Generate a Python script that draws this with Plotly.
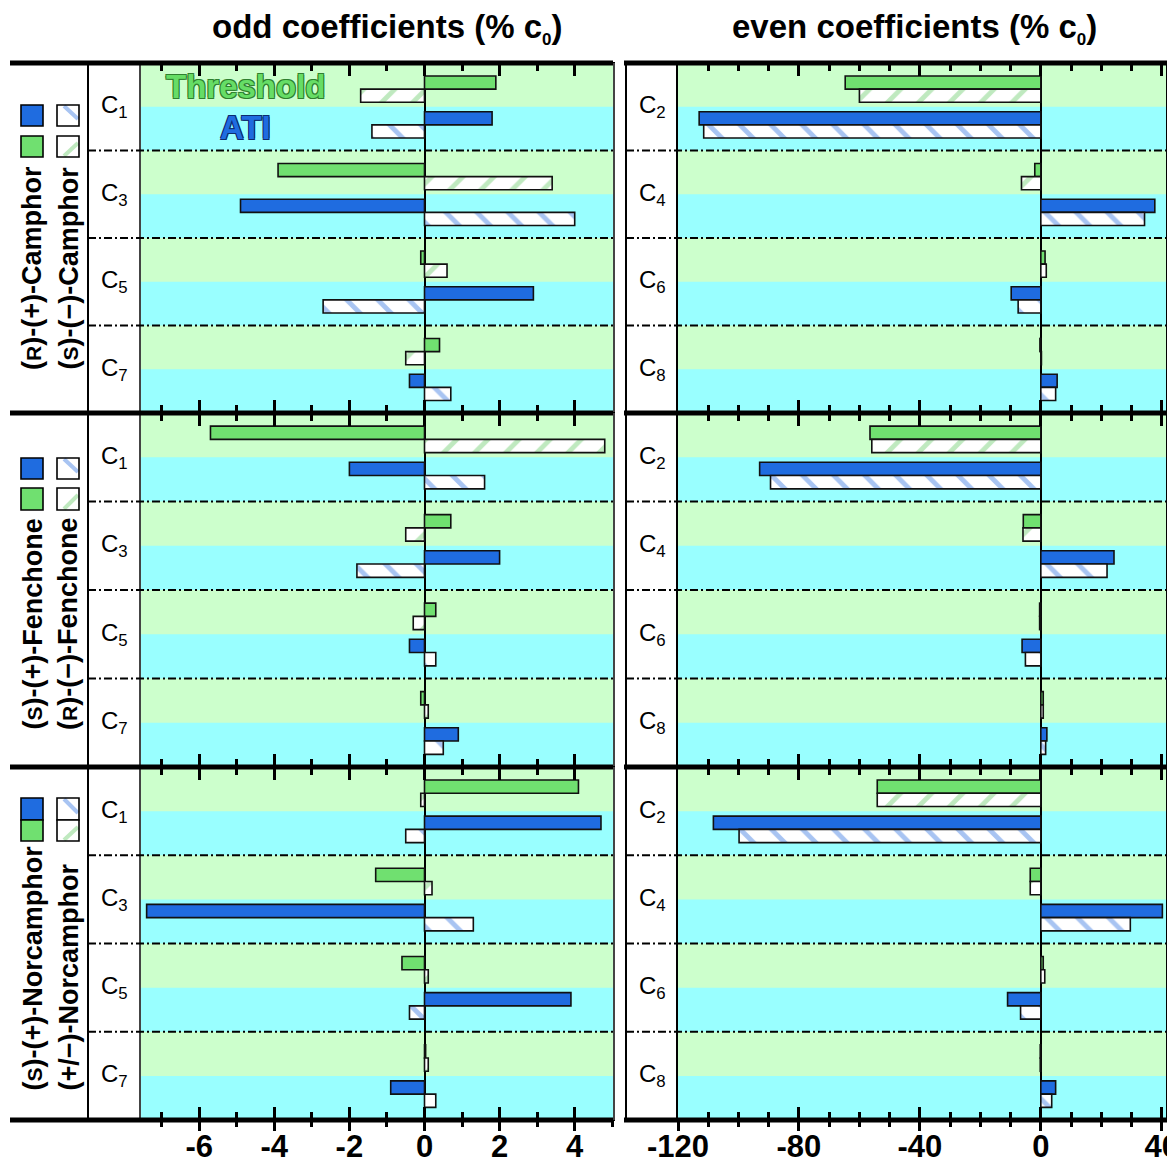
import plotly.graph_objects as go

# page body adds an 8px margin, so the figure is drawn 8px smaller and all
# reference-pixel positions are shifted by that offset
OFF = 8
W, H = 1175 - OFF, 1160 - OFF
FONT = "Liberation Sans, Arial, Helvetica, sans-serif"

# ---------------- data ----------------
odd_labels = ["C<sub>1</sub>", "C<sub>3</sub>", "C<sub>5</sub>", "C<sub>7</sub>"]
even_labels = ["C<sub>2</sub>", "C<sub>4</sub>", "C<sub>6</sub>", "C<sub>8</sub>"]
coef_index = [0, 1, 2, 3]

odd_tickvals = [-6, -4, -2, 0, 2, 4]
odd_ticktext = ["-6", "-4", "-2", "0", "2", "4"]
even_tickvals = [-120, -80, -40, 0, 40]
even_ticktext = ["-120", "-80", "-40", "0", "40"]

# Camphor: solid = (R)-(+), hatched = (S)-(-)
camphor_odd_thr_solid = [1.9, -3.9, -0.1, 0.4]
camphor_odd_thr_hatch = [-1.7, 3.4, 0.6, -0.5]
camphor_odd_ati_solid = [1.8, -4.9, 2.9, -0.4]
camphor_odd_ati_hatch = [-1.4, 4.0, -2.7, 0.7]
camphor_even_thr_solid = [-64.7, -2.0, 1.4, -0.3]
camphor_even_thr_hatch = [-60.0, -6.4, 1.8, 0.2]
camphor_even_ati_solid = [-113.0, 37.7, -9.8, 5.4]
camphor_even_ati_hatch = [-111.5, 34.3, -7.5, 4.9]

# Fenchone: solid = (S)-(+), hatched = (R)-(-)
fenchone_odd_thr_solid = [-5.7, 0.7, 0.3, -0.1]
fenchone_odd_thr_hatch = [4.8, -0.5, -0.3, 0.1]
fenchone_odd_ati_solid = [-2.0, 2.0, -0.4, 0.9]
fenchone_odd_ati_hatch = [1.6, -1.8, 0.3, 0.5]
fenchone_even_thr_solid = [-56.5, -5.8, -0.4, 0.8]
fenchone_even_thr_hatch = [-55.9, -5.9, -0.4, 0.8]
fenchone_even_ati_solid = [-93.0, 24.2, -6.2, 2.0]
fenchone_even_ati_hatch = [-89.4, 21.9, -5.1, 1.6]

# Norcamphor: solid = (S)-(+), hatched = (+/-)
norcamphor_odd_thr_solid = [4.1, -1.3, -0.6, 0.03]
norcamphor_odd_thr_hatch = [-0.1, 0.2, 0.1, 0.1]
norcamphor_odd_ati_solid = [4.7, -7.4, 3.9, -0.9]
norcamphor_odd_ati_hatch = [-0.5, 1.3, -0.4, 0.3]
norcamphor_even_thr_solid = [-54.1, -3.5, 0.8, -0.2]
norcamphor_even_thr_hatch = [-54.1, -3.5, 1.3, -0.2]
norcamphor_even_ati_solid = [-108.3, 40.2, -11.0, 4.9]
norcamphor_even_ati_hatch = [-99.8, 29.6, -6.7, 3.6]

panels = [
    [
        [camphor_odd_thr_solid, camphor_odd_thr_hatch, camphor_odd_ati_solid, camphor_odd_ati_hatch],
        [camphor_even_thr_solid, camphor_even_thr_hatch, camphor_even_ati_solid, camphor_even_ati_hatch],
    ],
    [
        [fenchone_odd_thr_solid, fenchone_odd_thr_hatch, fenchone_odd_ati_solid, fenchone_odd_ati_hatch],
        [fenchone_even_thr_solid, fenchone_even_thr_hatch, fenchone_even_ati_solid, fenchone_even_ati_hatch],
    ],
    [
        [norcamphor_odd_thr_solid, norcamphor_odd_thr_hatch, norcamphor_odd_ati_solid, norcamphor_odd_ati_hatch],
        [norcamphor_even_thr_solid, norcamphor_even_thr_hatch, norcamphor_even_ati_solid, norcamphor_even_ati_hatch],
    ],
]

SC = "<span style='font-size:21px'>%s</span>"
molecule_labels = [
    ["(" + SC % "R" + ")-(+)-Camphor", "(" + SC % "S" + ")-(\u2212)-Camphor"],
    ["(" + SC % "S" + ")-(+)-Fenchone", "(" + SC % "R" + ")-(\u2212)-Fenchone"],
    ["(" + SC % "S" + ")-(+)-Norcamphor", "(+/\u2212)-Norcamphor"],
]
titles = ["odd coefficients (% c<sub><span style='font-size:17px'>0</span></sub>)",
          "even coefficients (% c<sub><span style='font-size:17px'>0</span></sub>)"]

# ---------------- styles ----------------
GREEN = "#70e070"
BLUE = "#1f6ce0"
LGREEN = "#bfe9bf"
LBLUE = "#a8c4f2"
GREEN_BG = "#ccffcc"
CYAN_BG = "#99ffff"
EDGE = "#111111"

bar_styles = [
    dict(color=GREEN, pattern=None, offset=-0.352),
    dict(color="white", pattern=dict(shape="/", fgcolor=LGREEN, bgcolor="white", size=22, solidity=0.22, fillmode="replace"), offset=-0.202),
    dict(color=BLUE, pattern=None, offset=0.057),
    dict(color="white", pattern=dict(shape="\\", fgcolor=LBLUE, bgcolor="white", size=22, solidity=0.22, fillmode="replace"), offset=0.207),
]
BAR_W = 0.15


def px(x):
    return (x - OFF) / W


def py(y):
    return 1 - (y - OFF) / H


col_dom = [(px(141), px(613)), (px(678), px(1166))]
row_px = [(63, 413), (413, 767), (767, 1120)]
row_dom = [(py(b), py(t)) for t, b in row_px]
x_ranges = [[-7.55, 5.02], [-120, 41.4]]
major = [odd_tickvals, even_tickvals]
minor_dt = [1, 10]
label_sets = [odd_labels, even_labels]


def ax_id(letter, n):
    return letter if n == 1 else f"{letter}{n}"


fig = go.Figure()
layout = dict(
    width=W, height=H, margin=dict(l=0, r=0, t=0, b=0, pad=0, autoexpand=False),
    paper_bgcolor="white", plot_bgcolor=CYAN_BG, barmode="overlay",
    showlegend=False, font=dict(family=FONT, color="black"),
)
shapes = []
annotations = []

for r in range(3):
    for c in range(2):
        n = r * 2 + c + 1
        xa, ya = ax_id("x", n), ax_id("y", n)
        for vals, st in zip(panels[r][c], bar_styles):
            marker = dict(color=st["color"], line=dict(color=EDGE, width=1.6))
            if st["pattern"]:
                marker["pattern"] = st["pattern"]
            fig.add_trace(go.Bar(
                x=vals, y=coef_index, orientation="h", width=BAR_W, offset=st["offset"],
                marker=marker, xaxis=xa, yaxis=ya, showlegend=False, hoverinfo="skip",
            ))
        layout[f"xaxis{n}"] = dict(
            domain=col_dom[c], anchor=ya, range=x_ranges[c], showgrid=False,
            zeroline=True, zerolinecolor="black", zerolinewidth=1.6,
            showline=True, linewidth=1, linecolor="black", mirror="ticks",
            ticks="inside", ticklen=13, tickwidth=3, tickcolor="black",
            tickmode="array", tickvals=major[c], showticklabels=False,
            minor=dict(ticks="inside", dtick=minor_dt[c], tick0=0, ticklen=8, tickwidth=2.5, tickcolor="black"),
            fixedrange=True, automargin=False,
        )
        layout[f"yaxis{n}"] = dict(
            domain=row_dom[r], anchor=xa, range=[3.5, -0.5], showgrid=False,
            zeroline=False, showticklabels=False, ticks="",
            showline=True, mirror=True, linecolor="black" if c == 1 else "#444444", linewidth=1.6,
            fixedrange=True, automargin=False,
        )
        # background bands (green top half of each coefficient row)
        for k in coef_index:
            shapes.append(dict(type="rect", xref=f"{xa} domain", yref=ya, x0=0, x1=1,
                               y0=k - 0.5, y1=k, fillcolor=GREEN_BG, line=dict(width=0), layer="below"))
        # dash-dot separators across label column + plot
        sep = [(88, 613), (626, 1166)][c]
        for k in coef_index[:-1]:
            shapes.append(dict(type="line", xref="paper", yref=ya, x0=px(sep[0]), x1=px(sep[1]),
                               y0=k + 0.5, y1=k + 0.5, line=dict(color="black", width=2, dash="8px,3px,2px,3px")))
        # coefficient labels
        lab_x = [114, 652][c]
        for k, lab in zip(coef_index, label_sets[c]):
            annotations.append(dict(xref="paper", yref=ya, x=px(lab_x), y=k, text=lab, showarrow=False,
                                    xanchor="center", yanchor="middle",
                                    font=dict(size=24, family=FONT, color="black")))

# bottom axes with outward ticks and labels (overlaying bottom row)
for c, (ov, base, anch) in enumerate([(7, "x5", "y5"), (8, "x6", "y6")]):
    layout[f"xaxis{ov}"] = dict(
        overlaying=base, anchor=anch, side="bottom", range=x_ranges[c], showgrid=False,
        zeroline=False, showline=False, ticks="outside", ticklen=10, tickwidth=3, tickcolor="black",
        tickmode="array", tickvals=major[c], ticktext=[odd_ticktext, even_ticktext][c],
        tickfont=dict(size=31, family=FONT, color="black", weight="bold"),
        ticklabelstandoff=-11, ticklabeloverflow="allow",
        minor=dict(ticks="outside", dtick=minor_dt[c], tick0=0, ticklen=6, tickwidth=2.5, tickcolor="black"),
        fixedrange=True, automargin=False,
    )
    fig.add_trace(go.Scatter(x=[None], y=[None], xaxis=f"x{ov}", yaxis=anch, mode="markers",
                             showlegend=False, hoverinfo="skip"))

# thick horizontal rules
for yy in [63, 413, 767, 1120]:
    shapes.append(dict(type="line", xref="paper", yref="paper", x0=px(10), x1=px(613), y0=py(yy), y1=py(yy),
                       line=dict(color="black", width=5)))
    shapes.append(dict(type="line", xref="paper", yref="paper", x0=px(624), x1=px(1175), y0=py(yy), y1=py(yy),
                       line=dict(color="black", width=5)))
# vertical column rules
for xx in [88, 626]:
    shapes.append(dict(type="line", xref="paper", yref="paper", x0=px(xx), x1=px(xx), y0=py(63), y1=py(1120),
                       line=dict(color="black", width=2)))


# legend squares
def square(x0, y0, x1, y1, fill, stripe=None, direction=None):
    shapes.append(dict(type="rect", xref="paper", yref="paper", x0=px(x0), x1=px(x1), y0=py(y1), y1=py(y0),
                       fillcolor=fill, line=dict(width=0)))
    if stripe:
        if direction == "\\":
            shapes.append(dict(type="line", xref="paper", yref="paper", x0=px(x0 + 7), y0=py(y0 + 1),
                               x1=px(x1 - 1), y1=py(y1 - 7), line=dict(color=stripe, width=4)))
        else:
            shapes.append(dict(type="line", xref="paper", yref="paper", x0=px(x0 + 7), y0=py(y1 - 1),
                               x1=px(x1 - 1), y1=py(y0 + 7), line=dict(color=stripe, width=4)))
    shapes.append(dict(type="rect", xref="paper", yref="paper", x0=px(x0), x1=px(x1), y0=py(y1), y1=py(y0),
                       fillcolor="rgba(0,0,0,0)", line=dict(color="black", width=1.6)))


legend_rows = [((105, 126), (136, 157)), ((458, 479), (488, 510)), ((798, 820), (820, 841))]
for (b0, b1), (g0, g1) in legend_rows:
    square(21, b0, 43, b1, BLUE)
    square(57, b0, 79, b1, "white", LBLUE, "\\")
    square(21, g0, 43, g1, GREEN)
    square(57, g0, 79, g1, "white", LGREEN, "/")

# molecule names (rotated)
name_bottoms = [372, 732, 1093]
for r in range(3):
    for j, xx in enumerate([32, 68]):
        annotations.append(dict(xref="paper", yref="paper", x=px(xx), y=py(name_bottoms[r]),
                                text=molecule_labels[r][j], showarrow=False, textangle=-90,
                                xanchor="center", yanchor="bottom",
                                font=dict(size=27, family=FONT, color="black", weight="bold")))

# column titles
for t, cx in zip(titles, [387, 915]):
    annotations.append(dict(xref="paper", yref="paper", x=px(cx), y=py(28), text=t,
                            showarrow=False, xanchor="center", yanchor="middle",
                            font=dict(size=33, family=FONT, color="black", weight="bold")))

# series labels
annotations.append(dict(xref="paper", yref="paper", x=px(246), y=py(87), text="Threshold", showarrow=False,
                        xanchor="center", yanchor="middle",
                        font=dict(size=33, family=FONT, color="#66dd66", weight="bold",
                                  shadow="1px 1px 0 #2f7f2f, -1px -1px 0 #2f7f2f, 1px -1px 0 #2f7f2f, -1px 1px 0 #2f7f2f")))
annotations.append(dict(xref="paper", yref="paper", x=px(245), y=py(128), text="ATI", showarrow=False,
                        xanchor="center", yanchor="middle",
                        font=dict(size=33, family=FONT, color=BLUE, weight="bold",
                                  shadow="1px 1px 0 #0c2c6e, -1px -1px 0 #0c2c6e, 1px -1px 0 #0c2c6e, -1px 1px 0 #0c2c6e")))

layout["shapes"] = shapes
layout["annotations"] = annotations
fig.update_layout(**layout)
fig.write_html("out.html")
